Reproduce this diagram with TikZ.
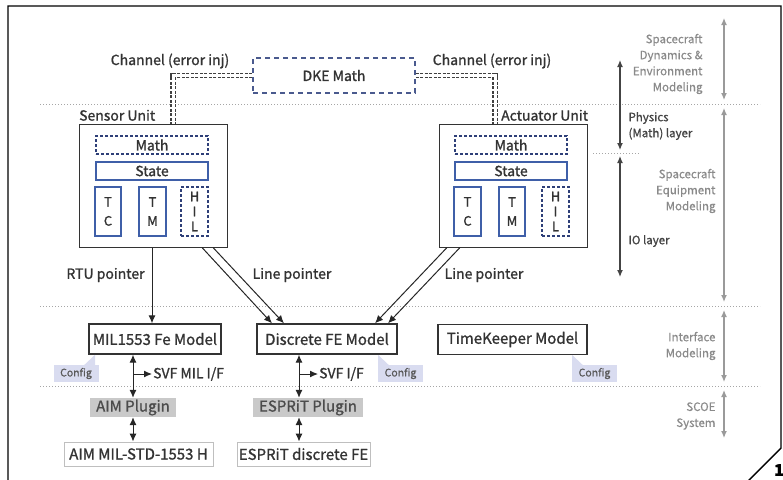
\documentclass[tikz,border=0pt]{standalone}
\usepackage{fontspec}
\setmainfont{Noto Sans CJK SC}[FakeBold=1.2]
\newfontfamily\sidefont{Noto Sans CJK SC}[FakeBold=0.6]
\usetikzlibrary{arrows.meta}
\definecolor{txt}{HTML}{333333}
\definecolor{blueA}{HTML}{3F5FA8}
\definecolor{navy}{HTML}{2E3F78}
\definecolor{dkeC}{HTML}{4A5A8E}
\definecolor{lav}{HTML}{D9DCF0}
\definecolor{plug}{HTML}{C9C9C9}
\definecolor{grayT}{HTML}{8A8A8A}
\definecolor{grayA}{HTML}{9A9A9A}
\definecolor{darkA}{HTML}{444444}
\tikzset{
  every node/.style={text=txt, font=\fontsize{14}{16}\selectfont},
  unit/.style={draw=black!80, line width=1pt, minimum width=148pt, minimum height=123pt, inner sep=0pt},
  inbox/.style={draw=blueA, line width=1.1pt, inner sep=0pt, align=center},
  indash/.style={draw=navy, line width=1.1pt, dash pattern=on 3pt off 2pt, inner sep=0pt, align=center},
  model/.style={draw=black!80, line width=1.3pt, minimum height=30pt, inner sep=0pt, font=\fontsize{15}{17}\selectfont},
  plugin/.style={fill=plug, text=black!70, minimum height=19pt, inner sep=0pt, font=\fontsize{15}{17}\selectfont},
  hw/.style={draw=black!25, line width=0.9pt, minimum height=24pt, inner sep=0pt, font=\fontsize{15}{17}\selectfont},
  cfg/.style={fill=lav, text=black!65, minimum width=45pt, minimum height=17pt, inner sep=0pt, font=\sidefont\fontsize{10.5}{12}\selectfont},
  sep/.style={draw=black!35, line width=0.6pt, dash pattern=on 1pt off 2pt},
  chan/.style={draw=black!75, line width=1.1pt, double=white, double distance=3pt, dash pattern=on 3pt off 1.5pt},
  arr/.style={draw=black!85, line width=1pt, -{Latex[length=8pt,width=7pt]}},
  darr/.style={draw=black!85, line width=1pt, {Latex[length=8pt,width=7pt]}-{Latex[length=8pt,width=7pt]}},
  garr/.style={draw=grayA, line width=1.2pt, {Latex[length=7pt,width=6pt]}-{Latex[length=7pt,width=6pt]}},
  karr/.style={draw=darkA, line width=1.2pt, {Latex[length=7pt,width=6pt]}-{Latex[length=7pt,width=6pt]}},
  side/.style={text=grayT, align=right, font=\sidefont\fontsize{11.5}{16}\selectfont},
  sidek/.style={text=darkA, align=left, font=\fontsize{11.5}{16}\selectfont},
}
\begin{document}
\begin{tikzpicture}[x=1pt,y=-1pt]
\useasboundingbox (0,0) rectangle (783,479);
% frame
\draw[line width=1.4pt, black] (8,485) -- (8,6) -- (781,6) -- (781,448) -- (748,481);
\node[font=\bfseries\fontsize{16}{16}\selectfont, text=black] (num) at (779,470) {1};

% separators
\draw[sep] (40,104) -- (760,104);
\draw[sep] (40,306) -- (760,306);
\draw[sep] (40,386) -- (760,386);
\draw[sep] (593,153) -- (640,153);

% right side arrows
\coordinate (g1a) at (724,18); \coordinate (g1b) at (724,100);
\coordinate (g2a) at (724,108); \coordinate (g2b) at (724,302);
\coordinate (g3a) at (724,310); \coordinate (g3b) at (724,382);
\coordinate (g4a) at (724,390); \coordinate (g4b) at (724,438);
\draw[garr] (g1a) -- (g1b);
\draw[garr] (g2a) -- (g2b);
\draw[garr] (g3a) -- (g3b);
\draw[garr] (g4a) -- (g4b);
\coordinate (k1a) at (620,60); \coordinate (k1b) at (620,150);
\coordinate (k2a) at (620,156); \coordinate (k2b) at (620,277);
\draw[karr] (k1a) -- (k1b);
\draw[karr] (k2a) -- (k2b);
\node[side, anchor=east] (t1) at (706,64) {Spacecraft\\Dynamics \&\\Environment\\Modeling};
\node[side, anchor=east] (t2) at (719,191) {Spacecraft\\Equipment\\Modeling};
\node[side, anchor=east] (t3) at (719,346) {Interface\\Modeling};
\node[side, anchor=east] (t4) at (719,416) {SCOE\\System};
\node[sidek, anchor=west] (t5) at (625,126) {Physics\\(Math) layer};
\node[sidek, anchor=west] (t6) at (625,241) {IO layer};

% DKE
\node[draw=dkeC, line width=1.2pt, dash pattern=on 5pt off 4pt, minimum width=162pt, minimum height=35pt, inner sep=0pt] (dke) at (334,75.5) {DKE Math};

% units
\node[unit] (sensor) at (153,185.5) {};
\node[unit] (act) at (513,185.5) {};
\node[anchor=south west, inner sep=0pt] (sl) at (79,121) {Sensor Unit};
\node[anchor=south west, inner sep=0pt] (al) at (501,121) {Actuator Unit};

\node[indash, minimum width=112pt, minimum height=18pt] (smath) at (152,145) {Math};
\node[inbox, minimum width=112pt, minimum height=18pt] (sstate) at (152,171) {State};
\node[inbox, minimum width=26pt, minimum height=49pt, font=\fontsize{13}{19}\selectfont] (stc) at (108,211.5) {T\\C};
\node[inbox, minimum width=27pt, minimum height=49pt, font=\fontsize{13}{19}\selectfont] (stm) at (152.5,211.5) {T\\M};
\node[indash, minimum width=27pt, minimum height=49pt, font=\fontsize{13}{15}\selectfont] (shil) at (194.5,211.5) {H\\I\\L};

\node[indash, minimum width=112pt, minimum height=18pt] (amath) at (511,145) {Math};
\node[inbox, minimum width=112pt, minimum height=18pt] (astate) at (511,171) {State};
\node[inbox, minimum width=27pt, minimum height=49pt, font=\fontsize{13}{19}\selectfont] (atc) at (467.5,211.5) {T\\C};
\node[inbox, minimum width=26pt, minimum height=49pt, font=\fontsize{13}{19}\selectfont] (atm) at (512,211.5) {T\\M};
\node[indash, minimum width=27pt, minimum height=49pt, font=\fontsize{13}{15}\selectfont] (ahil) at (555.5,211.5) {H\\I\\L};

% channels
\draw[chan] (dke.west) -| ([xshift=20pt]sensor.north);
\draw[chan] (dke.east) -| ([xshift=-18pt]act.north);
\node (ch1) at (170,61) {Channel (error inj)};
\node (ch2) at (492,61) {Channel (error inj)};

% models
\node[model, minimum width=132pt] (mil) at (155,339) {MIL1553 Fe Model};
\node[model, minimum width=140pt] (disc) at (327,339) {Discrete FE Model};
\node[model, minimum width=149pt] (tk) at (512.5,339.5) {TimeKeeper Model};

% pointers
\draw[arr] ([xshift=-1pt]sensor.south) -- ([xshift=-1pt]sensor.south |- mil.north);
\node (rtu) at (105.5,275) {RTU pointer};
\draw[arr] ([xshift=49pt]sensor.south) -- ([xshift=-55pt]disc.north);
\draw[arr] ([xshift=60pt]sensor.south) -- ([xshift=-43pt]disc.north);
\node (lp1) at (292,275) {Line pointer};
\draw[arr] ([xshift=-66pt]act.south) -- ([xshift=48pt]disc.north);
\draw[arr] ([xshift=-53pt]act.south) -- ([xshift=61pt]disc.north);
\node (lp2) at (484,275) {Line pointer};

% config notes
\node[cfg] (c1) at (76,373.5) {Config};
\fill[lav] (84,365.2) -- (95,365.2) -- (95,354.8) -- cycle;
\node[cfg] (c2) at (400.5,373.5) {Config};
\fill[lav] (378,354.8) -- (378,365.2) -- (389,365.2) -- cycle;
\node[cfg] (c3) at (594.5,373.5) {Config};
\fill[lav] (572,354.8) -- (572,365.2) -- (583,365.2) -- cycle;

% plugins and hardware
\node[plugin, minimum width=86pt] (aim) at (133,407.5) {AIM Plugin};
\node[plugin, minimum width=110pt] (espp) at (308,407.5) {ESPRiT Plugin};
\node[hw, minimum width=149pt] (aimhw) at (138.5,454) {AIM MIL-STD-1553 H};
\node[hw, minimum width=133pt] (esphw) at (303.5,454) {ESPRiT discrete FE};

\draw[darr] (aim.north |- mil.south) -- (aim.north);
\coordinate (b1) at (133,374);
\node[anchor=west, inner sep=1pt] (svf1) at (152,374) {SVF MIL I/F};
\draw[arr] (b1) -- (svf1.west);
\draw[darr] (aim.south) -- (aim.south |- aimhw.north);

\draw[darr] ([xshift=-28pt]disc.south) -- ([xshift=-28pt]disc.south |- espp.north);
\coordinate (b2) at (299,374);
\node[anchor=west, inner sep=1pt] (svf2) at (318,374) {SVF I/F};
\draw[arr] (b2) -- (svf2.west);
\draw[darr] ([xshift=-28pt]disc.south |- espp.south) -- ([xshift=-28pt]disc.south |- esphw.north);
\end{tikzpicture}
\end{document}
